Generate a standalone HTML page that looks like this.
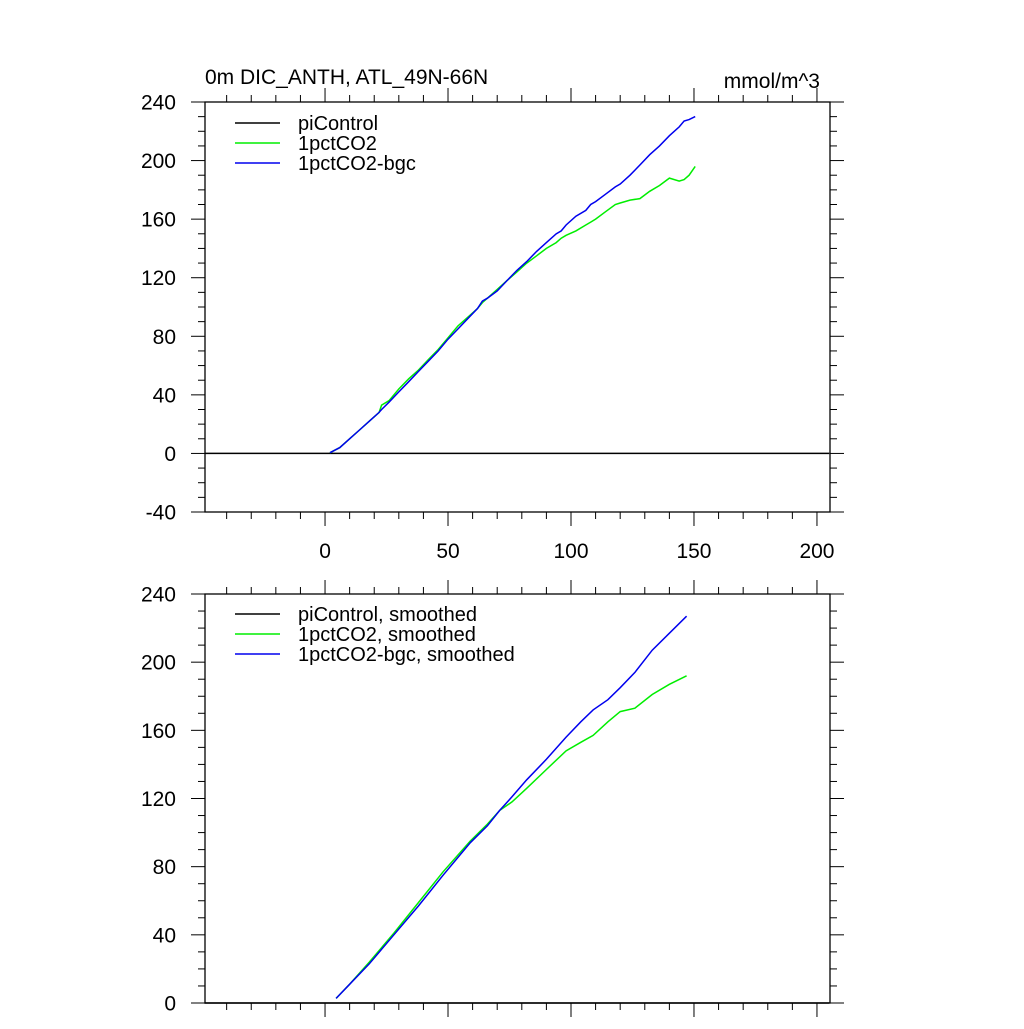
<!DOCTYPE html>
<html><head><meta charset="utf-8"><style>
body{margin:0;background:#fff;}
svg text{font-family:"Liberation Sans",Arial,sans-serif;fill:#000;}
</style></head><body>
<svg id="chart" width="1024" height="1024" xmlns="http://www.w3.org/2000/svg">
<text x="205" y="84" font-size="21">0m DIC_ANTH, ATL_49N-66N</text>
<text x="820" y="88" font-size="21" text-anchor="end">mmol/m^3</text>
</svg>
<script>
// ---- data ----
const xTicks = [0, 50, 100, 150, 200];
const yTicksTop = [-40, 0, 40, 80, 120, 160, 200, 240];
const yTicksBot = [0, 40, 80, 120, 160, 200, 240];
const piYears = [-49, 205];
const piVals = [0, 0];
const rawYears = [2, 6, 10, 14, 18, 22, 23, 26, 30, 34, 38, 42, 46, 50, 54, 58, 62, 64, 66, 70, 74, 78, 82, 86, 90, 94, 96, 98, 102, 106, 108, 110, 114, 118, 120, 124, 128, 132, 136, 140, 144, 146, 148, 150.5];
const rawCO2 = [0.5, 4, 10, 16, 22, 28, 33, 36, 44, 51, 57, 64, 71, 79, 87, 93, 99, 103, 106, 112, 118, 124, 130, 135, 140, 144, 147, 149, 152, 156, 158, 160, 165, 170, 171, 173, 174, 179, 183, 188, 186, 187, 190, 196];
const rawBgc = [0.5, 4, 10, 16, 22, 28, 30, 35, 42, 49, 56, 63, 70, 78, 85, 92, 99, 104, 106, 111, 118, 125, 131, 138, 144, 150, 152, 156, 162, 166, 170, 172, 177, 182, 184, 190, 197, 204, 210, 217, 223, 227, 228, 230];
const smYears = [4.5, 10, 18, 28, 38, 48, 59, 66, 71, 76, 82, 90, 98, 104, 109, 115, 120, 126, 133, 140, 147];
const smCO2 = [2.7, 11, 24, 41, 59, 77, 95, 105, 113, 118, 126, 137, 148, 153, 157, 165, 171, 173, 181, 187, 192];
const smBgc = [2.7, 11, 23, 40, 57, 75, 94, 104, 113, 121, 131, 143, 156, 165, 172, 178, 185, 194, 207, 217, 227];

const svg = document.getElementById('chart');
const NS = 'http://www.w3.org/2000/svg';
function mk(tag, attrs, parent){const e=document.createElementNS(NS,tag);for(const k in attrs)e.setAttribute(k,attrs[k]);(parent||svg).appendChild(e);return e;}

function panel(cfg){
  const g = mk('g',{});
  
  
  const X0=205,X1=830,xmin=-48.8,xmax=205.3;
  const sx=v=>X0+(v-xmin)/(xmax-xmin)*(X1-X0);
  const sy=v=>cfg.y1+(v-cfg.ymin)/(cfg.ymax-cfg.ymin)*(cfg.y0-cfg.y1);
  const frame = mk('rect',{x:X0,y:cfg.y0,width:X1-X0,height:cfg.y1-cfg.y0,fill:'none',stroke:'#000','stroke-width':1.3},g);
  
  
  for(let v=-40; v<=200; v+=10){
    const maj = v%50===0; const L = maj?14:7; const x=sx(v);
    mk('line',{x1:x,x2:x,y1:cfg.y0,y2:cfg.y0-L,stroke:'#000','stroke-width':1},g);
    mk('line',{x1:x,x2:x,y1:cfg.y1,y2:cfg.y1+L,stroke:'#000','stroke-width':1},g);
  }
  if(cfg.xlabels){
    xTicks.forEach(v=>{
      const t=mk('text',{x:sx(v),y:cfg.y1+46,'font-size':21,'text-anchor':'middle'},g);
      t.textContent=v;
      
      
    });
  }
  for(let v=cfg.ymin; v<=cfg.ymax; v+=10){
    const maj = v%40===0; const L = maj?14:7; const y=sy(v);
    mk('line',{x1:X0,x2:X0-L,y1:y,y2:y,stroke:'#000','stroke-width':1},g);
    mk('line',{x1:X1,x2:X1+L,y1:y,y2:y,stroke:'#000','stroke-width':1},g);
  }
  cfg.yTicks.forEach(v=>{
    const t=mk('text',{x:176,y:sy(v)+7.5,'font-size':21,'text-anchor':'end'},g);
    t.textContent=v;
    
    
  });
  cfg.series.forEach(s=>{
    const d = s.x.map((v,i)=>(i?'L':'M')+sx(v).toFixed(1)+','+sy(s.y[i]).toFixed(1)).join(' ');
    const p = mk('path',{d:d,fill:'none',stroke:s.color,'stroke-width':1.5},g);
    
    
  });
  cfg.series.forEach((s,i)=>{
    const y = cfg.legY + i*20;
    mk('line',{x1:235,x2:280,y1:y,y2:y,stroke:s.color,'stroke-width':1.5},g);
    const t=mk('text',{x:298,y:y+7,'font-size':20},g);
    t.textContent=s.label;
    
    
  });
}

panel({name:'top-panel', y0:102, y1:512, ymin:-40, ymax:240, yTicks:yTicksTop, xlabels:true, legY:123,
  series:[
    {name:'picontrol-line',label:'piControl',color:'#000',x:piYears,y:piVals},
    {name:'1pctco2-line',label:'1pctCO2',color:'#00ee00',x:rawYears,y:rawCO2},
    {name:'1pctco2-bgc-line',label:'1pctCO2-bgc',color:'#0000ee',x:rawYears,y:rawBgc}
  ]});
panel({name:'bottom-panel', y0:594, y1:1003, ymin:0, ymax:240, yTicks:yTicksBot, xlabels:false, legY:614,
  series:[
    {name:'picontrol-smoothed-line',label:'piControl, smoothed',color:'#000',x:piYears,y:piVals},
    {name:'1pctco2-smoothed-line',label:'1pctCO2, smoothed',color:'#00ee00',x:smYears,y:smCO2},
    {name:'1pctco2-bgc-smoothed-line',label:'1pctCO2-bgc, smoothed',color:'#0000ee',x:smYears,y:smBgc}
  ]});
</script>
</body></html>
